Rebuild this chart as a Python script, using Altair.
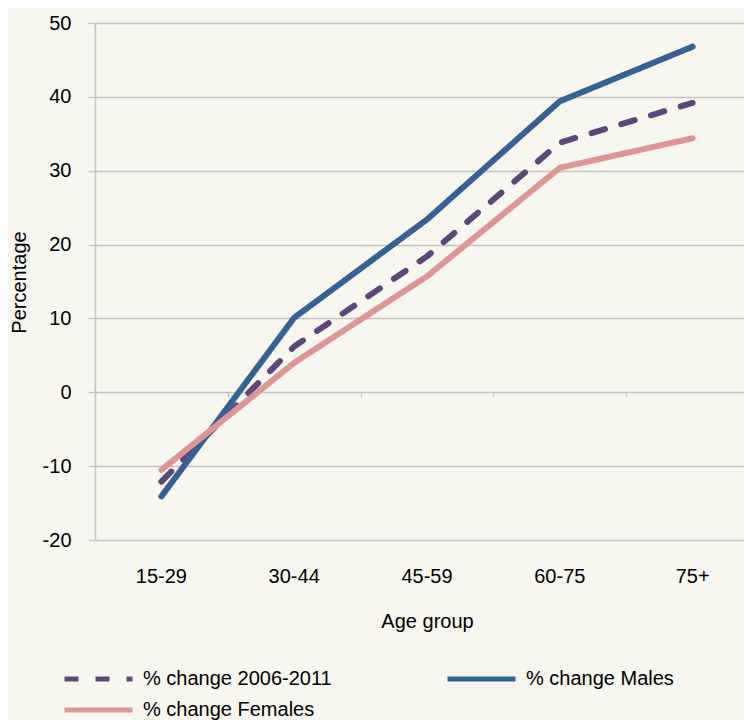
import altair as alt
import pandas as pd

ages = ["15-29", "30-44", "45-59", "60-75", "75+"]
series_names = ["% change 2006-2011", "% change Males", "% change Females"]
legend_order = ["% change 2006-2011", "% change Females", "% change Males"]
change_total = [-12.1, 6.2, 18.4, 33.8, 39.2]
change_males = [-14.1, 10.1, 23.4, 39.4, 46.8]
change_females = [-10.5, 4.0, 15.7, 30.4, 34.4]
series_colors = ["#5b477b", "#356194", "#dc9694"]
series_dash = [[14, 17], [1, 0], [1, 0]]
y_ticks = [-20, -10, 0, 10, 20, 30, 40, 50]

rows = []
for name, vals in zip(series_names, [change_total, change_males, change_females]):
    for a, v in zip(ages, vals):
        rows.append({"age": a, "series": name, "value": v})
df = pd.DataFrame(rows)

FONT = "Liberation Sans"
GRID = "#c3c3c3"

legend_cfg = alt.Legend(
    title=None, orient="none", legendX=-7.5, legendY=645, columns=2,
    columnPadding=105, rowPadding=10, symbolType="M-4,0H4", symbolSize=289,
    symbolStrokeWidth=5, labelFontSize=20, labelFont=FONT, labelColor="#000000",
    labelOffset=33.5, labelLimit=400, values=legend_order,
)

x_scale = alt.Scale(domain=ages, range=[0, 664], paddingInner=0, paddingOuter=0)
y_scale = alt.Scale(domain=[-20, 50], nice=False, zero=False)

y_enc = alt.Y("value:Q", scale=y_scale,
              axis=alt.Axis(title="Percentage", values=y_ticks, grid=True, gridColor=GRID,
                            gridWidth=1.3, domainColor=GRID, domainWidth=1.5, tickColor=GRID,
                            tickSize=7, tickWidth=1.3, labelPadding=17, labelFontSize=20,
                            labelFont=FONT, labelColor="#000000",
                            labelExpr="replace(datum.label, '\u2212', '-')",
                            titleFontSize=20, titleFont=FONT,
                            titleFontWeight="normal", titleColor="#000000", titleAngle=270,
                            titleX=-70, titleY=259, titleAlign="center",
                            titleBaseline="alphabetic"))

lines = alt.Chart(df).mark_line(strokeWidth=6, strokeCap="round", strokeJoin="round").encode(
    x=alt.X("age:N", sort=ages, scale=x_scale,
            axis=alt.Axis(title="Age group", orient="bottom", ticks=False, domain=False, grid=False,
                          labelPadding=26, labelAngle=0, labelFontSize=20, labelFont=FONT,
                          labelColor="#000000", titleFontSize=20, titleFont=FONT,
                          titleFontWeight="normal", titleColor="#000000", titleX=332, titleY=87,
                          titleBaseline="alphabetic")),
    y=y_enc,
    color=alt.Color("series:N", scale=alt.Scale(domain=series_names, range=series_colors),
                    legend=legend_cfg),
    strokeDash=alt.StrokeDash("series:N", scale=alt.Scale(domain=series_names, range=series_dash),
                              legend=legend_cfg),
    order=alt.Order("series_order:Q"),
).transform_calculate(
    series_order="indexof(['% change Females','% change 2006-2011','% change Males'], datum.series)"
)

zero_ticks = alt.Chart(df).mark_line(opacity=0).encode(
    x=alt.X("age:N", sort=ages, scale=x_scale,
            axis=alt.Axis(title=None, orient="bottom", offset=-148, labels=False, domain=False,
                          grid=False, ticks=True, tickSize=5, tickColor=GRID, tickWidth=1.3,
                          tickBand="extent")),
    y=y_enc,
    detail="series:N",
)

chart = alt.layer(zero_ticks, lines).resolve_axis(x="independent").properties(
    width=649, height=517,
    autosize=alt.AutoSizeParams(type="none"),
    padding={"left": 87, "top": 15, "right": 0, "bottom": 190},
    background="#f7f7f0",
).configure_view(stroke=None)

chart.save("out.html", embed_options={"renderer": "svg", "actions": False})
